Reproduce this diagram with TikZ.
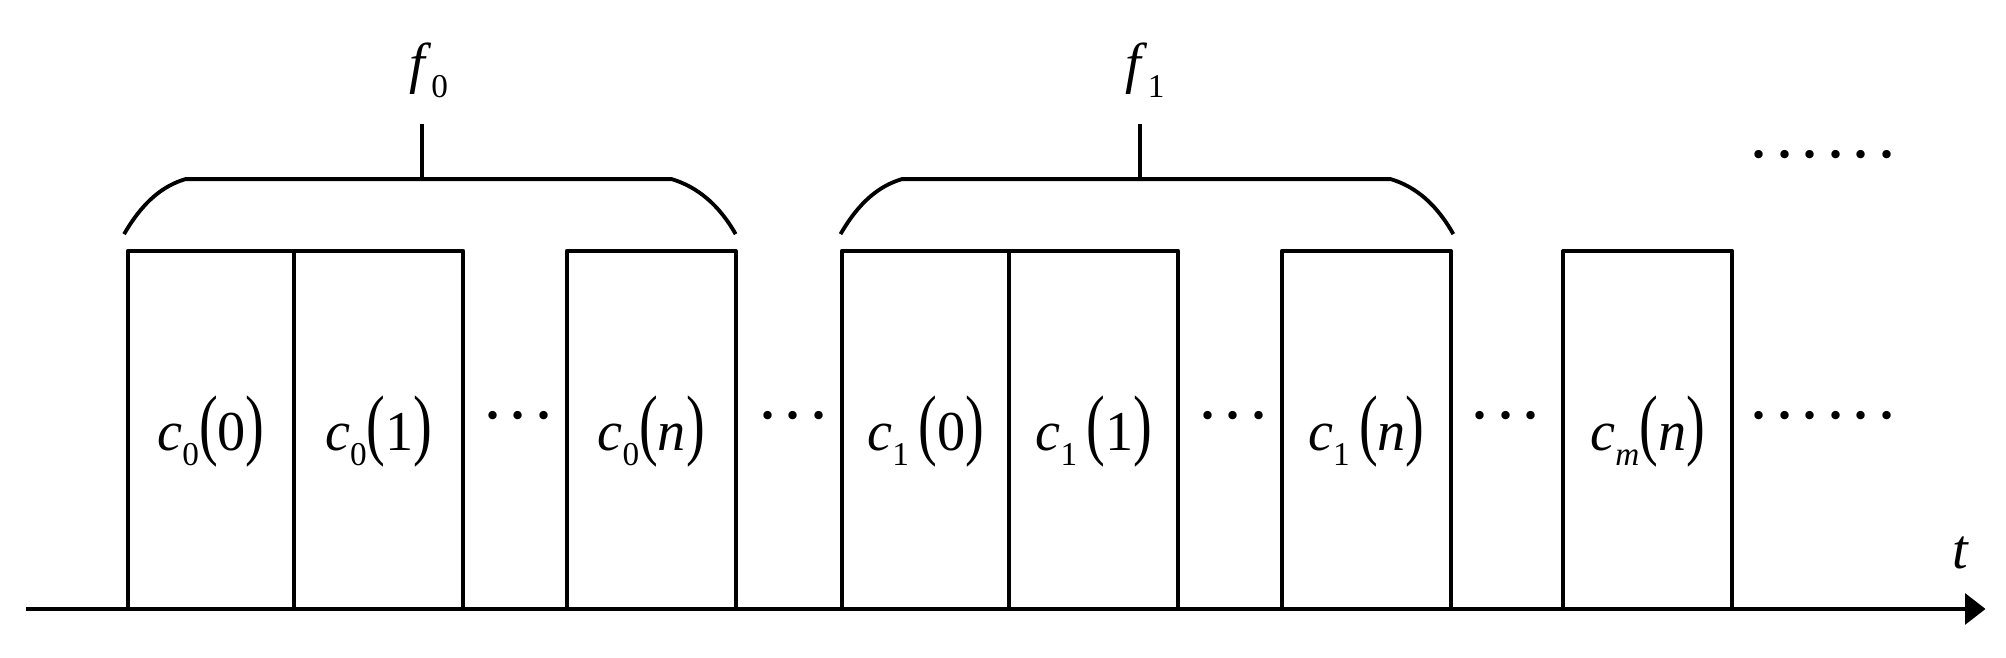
\documentclass[tikz,border=0pt]{standalone}
\usepackage{fontspec}
\setmainfont{Liberation Serif}
\usepackage{graphicx}
\usetikzlibrary{arrows.meta}
\newcommand{\cl}[3]{\textit{c}\raisebox{-12pt}{\fontsize{26}{30}\selectfont #1}#3\scalebox{1}[1.4]{(}#2\scalebox{1}[1.4]{)}}
\begin{document}
\begin{tikzpicture}[x=1pt,y=-1pt,line width=3pt,
  lbl/.style={font=\fontsize{44}{50}\selectfont,inner sep=0pt},
  dots/.style={font=\fontsize{40}{44}\selectfont\bfseries,inner sep=0pt}]
\useasboundingbox (0,0) rectangle (1568,514);
\coordinate (a0) at (20,476); \coordinate (a1) at (1552,476);
\draw[-{Triangle[length=16pt,width=24pt]}] (a0) -- (a1);
\node[lbl] (t) at (1533,432) {\textit{t}};
\foreach \l/\r/\n/\txt in {100/230/b1/{\cl{0}{0}{}},230/362/b2/{\cl{0}{1}{}},443/575/b3/{\cl{0}{\textit{n}}{}},658/789/b4/{\cl{1}{0}{\,}},789/921/b5/{\cl{1}{1}{\,}},1002/1134/b6/{\cl{1}{\textit{n}}{\,}},1222/1354/b7/{\cl{\textit{m}}{\textit{n}}{}}}{
  \draw[line join=round] (\l,476) -- (\l,196) -- (\r,196) -- (\r,476);
  \node[lbl] (\n) at ({(\l+\r)/2},337) {\txt};
}
\foreach \x/\n in {405/d1,620/d2,964/d3,1177/d4}{\node[dots] (\n) at (\x,330) {·\,·\,·};}
\node[dots] (d5) at (1425,330) {·\,·\,·\,·\,·\,·};
\node[dots] (d6) at (1425,126) {·\,·\,·\,·\,·\,·};
\draw (97,183) .. controls (112,157) and (128,145) .. (145,140) -- (525,140) .. controls (545,146) and (562,160) .. (575,183);
\draw (330,140) -- (330,97);
\node[lbl] (f0) at (335,55) {\textit{f}\raisebox{-12pt}{\fontsize{26}{30}\selectfont 0}};
\draw (657,183) .. controls (672,157) and (688,145) .. (705,140) -- (1087,140) .. controls (1107,146) and (1123,160) .. (1136,183);
\draw (891,140) -- (891,97);
\node[lbl] (f1) at (895,55) {\textit{f}\raisebox{-12pt}{\fontsize{26}{30}\selectfont 1}};
\end{tikzpicture}
\end{document}
